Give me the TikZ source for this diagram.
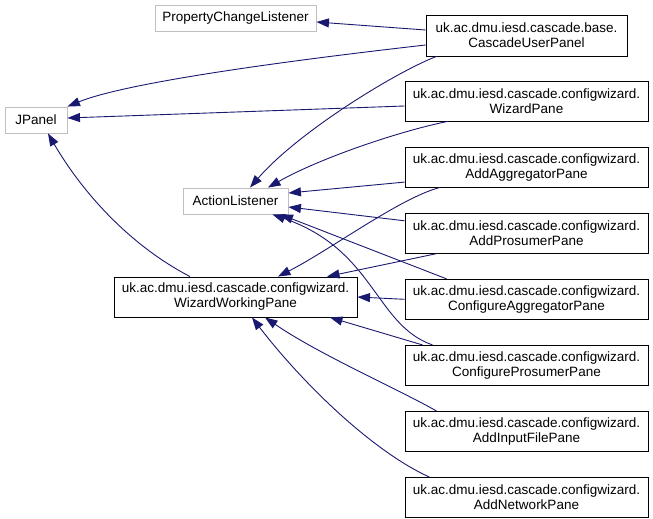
\documentclass[tikz,border=0pt]{standalone}
\usepackage{fontspec}
\setmainfont{Liberation Sans}
\usepackage{tikz}
\usetikzlibrary{positioning,arrows.meta}
\definecolor{albastru}{RGB}{25,25,112}
\definecolor{gri}{RGB}{191,191,191}
\tikzset{
  clasa/.style     = {draw, line width=0.9pt, align=center, inner sep=2pt,
                      minimum width=243pt, minimum height=40pt,
                      font=\fontsize{13.5}{15}\selectfont},
  clasaext/.style  = {clasa, draw=gri, minimum height=26pt},
  mostenire/.style = {-{Triangle[length=12.5pt,width=9pt]}, draw=albastru,
                      fill=none, line width=0.9pt}
}
\begin{document}
\begin{tikzpicture}[x=1pt, y=-1pt, node distance=25.2pt]
        \useasboundingbox (0,0) rectangle (653,519);

        \node[clasaext, minimum width=161pt] (pcl) at (235.5,18) {PropertyChangeListener};
        \node[clasaext, minimum width=62pt] (jpanel) at (36,120) {JPanel};
        \node[clasaext, minimum width=105pt] (al) at (235.5,201) {ActionListener};
        \node[clasa] (wwp) at (235.5,297) {uk.ac.dmu.iesd.cascade.configwizard.\\WizardWorkingPane};
        \node[clasa, minimum width=201pt, minimum height=41pt] (cup) at (526.5,35.5) {uk.ac.dmu.iesd.cascade.base.\\CascadeUserPanel};
        \node[clasa] (wp) at (526.5,101) {uk.ac.dmu.iesd.cascade.configwizard.\\WizardPane};
        \node[clasa, below=of wp] (aagg) {uk.ac.dmu.iesd.cascade.configwizard.\\AddAggregatorPane};
        \node[clasa, below=of aagg] (apros) {uk.ac.dmu.iesd.cascade.configwizard.\\AddProsumerPane};
        \node[clasa, below=of apros] (cagg) {uk.ac.dmu.iesd.cascade.configwizard.\\ConfigureAggregatorPane};
        \node[clasa, below=of cagg] (cpros) {uk.ac.dmu.iesd.cascade.configwizard.\\ConfigureProsumerPane};
        \node[clasa, below=of cpros] (ainp) {uk.ac.dmu.iesd.cascade.configwizard.\\AddInputFilePane};
        \node[clasa, below=of ainp] (anet) {uk.ac.dmu.iesd.cascade.configwizard.\\AddNetworkPane};

        \draw[mostenire] ([yshift=5.5pt]cup.west) -- ([yshift=-4pt]pcl.east);
        \draw[mostenire] ([yshift=-9.5pt]cup.west) .. controls (250,65) and (120,85) .. (jpanel.north east);
        \draw[mostenire] ([xshift=11pt]cup.south west) .. controls (400,70) and (300,130) .. ([xshift=14.5pt]al.north);
        \draw[mostenire] ([yshift=-5pt]wp.west) -- ([yshift=2pt]jpanel.east);
        \draw[mostenire] ([xshift=43pt]wp.south west) .. controls (400,131) and (320,158) .. ([xshift=32.5pt]al.north);
        \draw[mostenire] ([yshift=-15pt]aagg.west) -- ([yshift=8pt]al.east);
        \draw[mostenire] ([xshift=35pt]aagg.south west) .. controls (400,198) and (330,250) .. ([xshift=42.5pt]wwp.north);
        \draw[mostenire] ([yshift=12.4pt]apros.west) -- ([yshift=-6pt]al.east);
        \draw[mostenire] ([xshift=32pt]apros.south west) -- ([xshift=91.5pt]wwp.north);
        \draw[mostenire] ([xshift=42pt]cagg.north west) -- ([xshift=-8pt]al.south east);
        \draw[mostenire] (cagg.west) -- (wwp.east);
        \draw[mostenire] ([xshift=28pt]cpros.north west) .. controls (375,325) and (375,250) .. ([xshift=-16pt]al.south east);
        \draw[mostenire] ([xshift=18pt]cpros.north west) -- ([xshift=94.5pt]wwp.south);
        \draw[mostenire] ([xshift=32pt]ainp.north west) .. controls (400,390) and (320,355) .. ([xshift=29.5pt]wwp.south);
        \draw[mostenire] ([xshift=25pt]anet.north west) .. controls (370,450) and (300,380) .. ([xshift=16.5pt]wwp.south);
        \draw[mostenire] ([xshift=-45.5pt]wwp.north) .. controls (120,240) and (75,180) .. ([xshift=12pt]jpanel.south);
\end{tikzpicture}
\end{document}
